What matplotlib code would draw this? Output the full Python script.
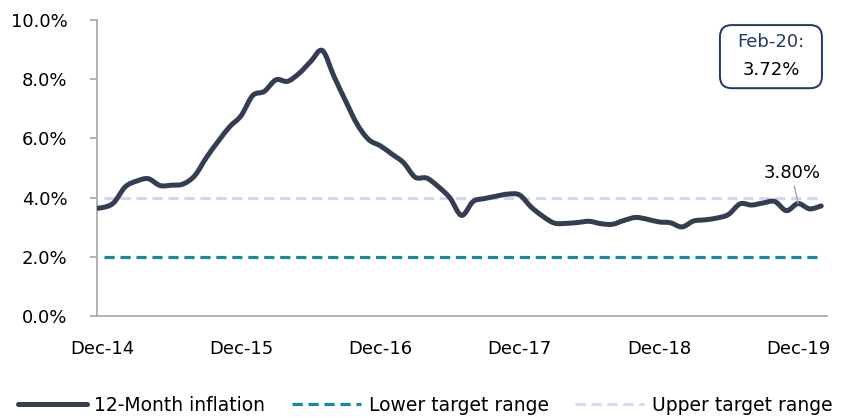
import pandas as pd
import matplotlib.pyplot as plt
from matplotlib.patches import FancyBboxPatch, PathPatch
from matplotlib.path import Path
from matplotlib.lines import Line2D

# 12-month inflation, Nov-14 .. Feb-20 (%)
months = pd.date_range('2014-11-01', '2020-02-01', freq='MS')
inflation = [
    3.65, 3.66,                                                              # Nov-14, Dec-14
    3.82, 4.36, 4.56, 4.64, 4.41, 4.42, 4.46, 4.74, 5.35, 5.89, 6.39, 6.77,  # 2015
    7.45, 7.59, 7.98, 7.93, 8.20, 8.60, 8.97, 8.10, 7.27, 6.48, 5.96, 5.75,  # 2016
    5.47, 5.18, 4.69, 4.66, 4.37, 3.99, 3.40, 3.87, 3.97, 4.05, 4.12, 4.09,  # 2017
    3.68, 3.37, 3.14, 3.13, 3.16, 3.20, 3.12, 3.10, 3.23, 3.33, 3.27, 3.18,  # 2018
    3.15, 3.01, 3.21, 3.25, 3.31, 3.43, 3.79, 3.75, 3.82, 3.87, 3.56, 3.80,  # 2019
    3.62, 3.72,                                                              # 2020
]
lower_target = 2.0
upper_target = 4.0
tick_labels = ['Dec-14', 'Dec-15', 'Dec-16', 'Dec-17', 'Dec-18', 'Dec-19']

LINE_COLOR = '#333F50'
LOWER_COLOR = '#168AA0'
UPPER_COLOR = '#D2D8F3'

plt.rcParams['font.family'] = ['DejaVu Sans']

# month index, Dec-14 = 0
x = list(range(-1, len(months) - 1))


def smooth_path(xs, ys):
    """Excel style smoothed line: cubic bezier through every point"""
    n = len(xs)
    verts = [(xs[0], ys[0])]
    codes = [Path.MOVETO]
    for i in range(n - 1):
        i0 = max(i - 1, 0)
        i3 = min(i + 2, n - 1)
        c1 = (xs[i] + (xs[i + 1] - xs[i0]) / 6, ys[i] + (ys[i + 1] - ys[i0]) / 6)
        c2 = (xs[i + 1] - (xs[i3] - xs[i]) / 6, ys[i + 1] - (ys[i3] - ys[i]) / 6)
        verts += [c1, c2, (xs[i + 1], ys[i + 1])]
        codes += [Path.CURVE4] * 3
    return Path(verts, codes)


fig = plt.figure(figsize=(8.5, 4.18), dpi=100)
ax = fig.add_axes([0.114, 0.244, 0.859, 0.708])

ax.add_patch(PathPatch(smooth_path(x, inflation), facecolor='none', edgecolor=LINE_COLOR,
                       linewidth=3.6, joinstyle='round', capstyle='round', zorder=3))
ax.axhline(lower_target, xmin=0.01, xmax=0.99, color=LOWER_COLOR, linewidth=2.3,
           dashes=(3.2, 1.8), zorder=2)
ax.axhline(upper_target, xmin=0.01, xmax=0.99, color=UPPER_COLOR, linewidth=2.3,
           dashes=(3.2, 1.8), zorder=2)

ax.set_xlim(-0.43, 62.5)
ax.set_ylim(0, 10)
ax.set_xticks([0, 12, 24, 36, 48, 60])
ax.set_xticklabels(tick_labels)
ax.set_yticks([0, 2, 4, 6, 8, 10])
ax.set_yticklabels([f'{v:.1f}%' for v in [0, 2, 4, 6, 8, 10]])

for s in ['top', 'right']:
    ax.spines[s].set_visible(False)
for s in ['left', 'bottom']:
    ax.spines[s].set_color('#A6A6A6')
    ax.spines[s].set_linewidth(1.2)
ax.tick_params(axis='y', length=5, width=1.2, color='#A6A6A6', pad=16,
               labelsize=13, labelcolor='black')
ax.tick_params(axis='x', length=0, pad=17, labelsize=13, labelcolor='black')

# Dec-19 label
ax.annotate('3.80%', xy=(60, inflation[61]), xytext=(-4.5, 22), textcoords='offset points',
            ha='center', va='center', fontsize=13,
            arrowprops=dict(arrowstyle='-', color='#A6A6A6', linewidth=1.0,
                            shrinkA=1, shrinkB=0))

# latest value box
box = FancyBboxPatch((0.847, 0.789), 0.120, 0.151, transform=fig.transFigure,
                     boxstyle='round,pad=0,rounding_size=0.014',
                     facecolor='white', edgecolor='#1F3864', linewidth=1.4,
                     mutation_aspect=850 / 418)
fig.patches.append(box)
fig.text(0.907, 0.899, 'Feb-20:', ha='center', va='center', fontsize=13, color='#1F3864')
fig.text(0.907, 0.833, '3.72%', ha='center', va='center', fontsize=13, color='black')

handles = [
    Line2D([], [], color=LINE_COLOR, linewidth=3.6, solid_capstyle='round'),
    Line2D([], [], color=LOWER_COLOR, linewidth=2.3, dashes=(3.2, 1.8)),
    Line2D([], [], color=UPPER_COLOR, linewidth=2.3, dashes=(3.2, 1.8)),
]
fig.legend(handles, ['12-Month inflation', 'Lower target range', 'Upper target range'],
           loc='center', bbox_to_anchor=(0.5, 0.03), ncol=3, frameon=False,
           fontsize=13.5, handlelength=3.7, handletextpad=0.4, columnspacing=1.4,
           borderaxespad=0)

fig.savefig('out.png', dpi=100)
